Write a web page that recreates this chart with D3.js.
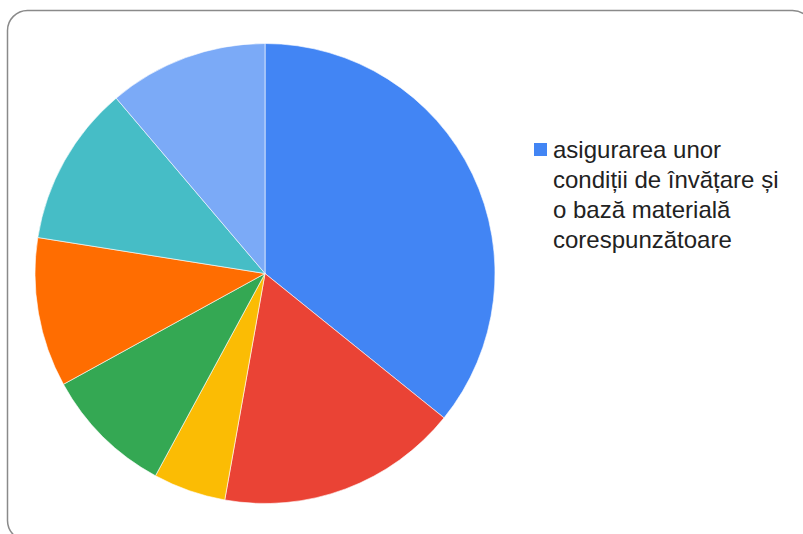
<!DOCTYPE html>
<html>
<head>
<meta charset="utf-8">
<script src="https://cdn.jsdelivr.net/npm/d3@7"></script>
<style>
  html, body { margin: 0; padding: 0; background: #fff; overflow: hidden; }
  svg { display: block; }
</style>
</head>
<body>
<svg id="chart"></svg>
<script>
// categories (only the first fits in the legend)
const categories = [
  'asigurarea unor condiții de învățare și o bază materială corespunzătoare',
  'categoria 2',
  'categoria 3',
  'categoria 4',
  'categoria 5',
  'categoria 6',
  'categoria 7'
];
const values = [35.8, 17.0, 5.1, 9.1, 10.5, 11.3, 11.2];
const colors = ['#4285F4', '#EA4335', '#FBBC04', '#34A853', '#FF6D01', '#46BDC6', '#7BAAF7'];
const legendLines = ['asigurarea unor', 'condiții de învățare și', 'o bază materială', 'corespunzătoare'];

const width = 803, height = 534;

const svg = d3.select('#chart')
  .attr('width', width)
  .attr('height', height);

// frame
svg.append('rect')
  .attr('x', 7.5).attr('y', 10.5)
  .attr('width', 805).attr('height', 530)
  .attr('rx', 20).attr('ry', 20)
  .attr('fill', '#fff')
  .attr('stroke', '#8a8a8a')
  .attr('stroke-width', 1.5);

const cx = 265, cy = 273.5, r = 230;

const data = categories.map((c, i) => ({ label: c, value: values[i], color: colors[i] }));

const pie = d3.pie().sort(null).value(d => d.value);
const arc = d3.arc().innerRadius(0).outerRadius(r);

// Draw slices
svg.append('g')
  .attr('transform', 'translate(' + cx + ',' + cy + ')')
  .selectAll('path')
  .data(pie(data))
  .join('path')
  .attr('d', arc)
  .attr('fill', d => d.data.color)
  .attr('stroke', '#fff')
  .attr('stroke-width', 0.6);

// legend
const legend = svg.append('g').attr('transform', 'translate(534,143)');
legend.append('rect')
  .attr('width', 13).attr('height', 13)
  .attr('fill', colors[0]);

legend.append('text')
  .attr('x', 19)
  .attr('y', 15)
  .attr('font-family', 'Liberation Sans, Arial, sans-serif')
  .attr('font-size', 24)
  .attr('fill', '#222')
  .selectAll('tspan')
  .data(legendLines)
  .join('tspan')
  .attr('x', 19)
  .attr('dy', (d, i) => i === 0 ? 0 : 30)
  .text(d => d);
</script>
</body>
</html>
